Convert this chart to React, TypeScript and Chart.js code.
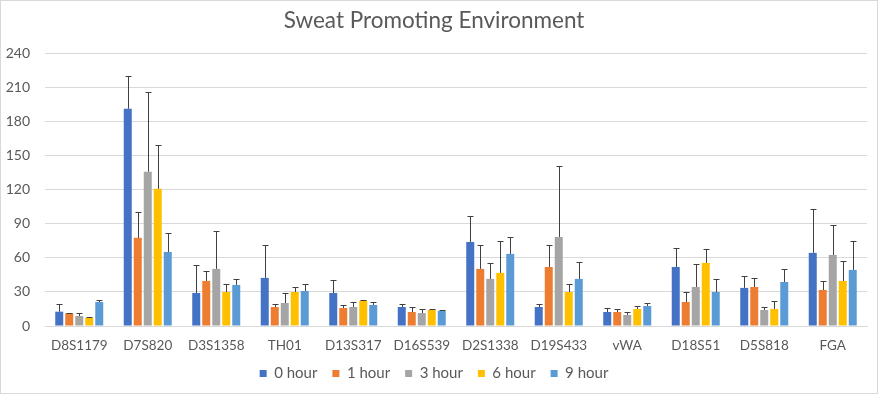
import React, { useEffect, useRef } from "react";
import { Chart, registerables } from "chart.js";

Chart.register(...registerables);

const categories = ["D8S1179", "D7S820", "D3S1358", "TH01", "D13S317", "D16S539", "D2S1338", "D19S433", "vWA", "D18S51", "D5S818", "FGA"];
const seriesNames = ["0 hour", "1 hour", "3 hour", "6 hour", "9 hour"];

const hour0 = [12.6, 191, 29, 42.3, 29, 16.7, 73.9, 16.7, 12.3, 51.9, 33.5, 64.3];
const hour1 = [11.2, 77.5, 39.6, 16.7, 15.8, 12.3, 50.2, 51.9, 12.3, 21.1, 34.3, 31.7];
const hour3 = [8.8, 135.6, 50.2, 20.2, 16.7, 11.4, 41.4, 78.3, 9.7, 34.3, 14.1, 62.5];
const hour6 = [7.3, 120.6, 29.9, 29.9, 22.3, 14.1, 46.7, 29.9, 15, 55.5, 15, 39.6];
const hour9 = [21.1, 65.1, 36.1, 30.8, 18.5, 13.2, 63.4, 41.4, 17.6, 29.9, 38.7, 49.3];

const err0 = [6.5, 29, 24.4, 28.7, 11.5, 2.4, 22.9, 2.4, 3.5, 16.5, 10.2, 38.4];
const err1 = [0.5, 22.5, 8.8, 2.4, 2.4, 4.1, 20.8, 19.1, 2.4, 8.5, 7.7, 7.6];
const err3 = [2.4, 70, 33, 8.6, 4.1, 3.3, 13.8, 62.3, 2.3, 20, 2.3, 26.1];
const err6 = [0.7, 38.4, 6.8, 4.7, 0.3, 0.6, 27.8, 7.4, 2.3, 12, 6.7, 17.3];
const err9 = [1.5, 16.5, 5, 6.5, 2.3, 0.6, 14.6, 14.6, 2.3, 11.2, 11.2, 25.2];

const yTicks = [0, 30, 60, 90, 120, 150, 180, 210, 240];

const colors = ["#4472C4", "#ED7D31", "#A5A5A5", "#FFC000", "#5B9BD5"];
const values = [hour0, hour1, hour3, hour6, hour9];
const errors = [err0, err1, err3, err6, err9];

const FONT = "Lato, 'Open Sans', sans-serif";
const TEXT = "#595959";
const GRID = "#D9D9D9";

const errorBarPlugin = {
  id: "errorBars",
  afterDatasetsDraw(chart: any) {
    const ctx = chart.ctx;
    const yScale = chart.scales.y;
    ctx.save();
    ctx.strokeStyle = "#404040";
    ctx.lineWidth = 1;
    chart.data.datasets.forEach((ds: any, i: number) => {
      const meta = chart.getDatasetMeta(i);
      if (meta.hidden) return;
      meta.data.forEach((el: any, j: number) => {
        const v = ds.data[j];
        const e = ds.errors[j];
        const top = Math.round(yScale.getPixelForValue(v + e)) + 0.5;
        const x = Math.round(el.x) + 0.5;
        const base = el.y;
        ctx.beginPath();
        ctx.moveTo(x, base);
        ctx.lineTo(x, top);
        ctx.moveTo(x - 3, top);
        ctx.lineTo(x + 3, top);
        ctx.stroke();
      });
    });
    ctx.restore();
  },
};

const legendHeightPlugin = {
  id: "legendHeight",
  beforeLayout(chart: any) {
    const lg = chart.legend;
    if (lg && !lg.__patched) {
      const orig = lg.fit;
      lg.fit = function () {
        orig.call(this);
        this.height = 42;
      };
      lg.__patched = true;
    }
  },
};

export default function App() {
  const ref = useRef<HTMLCanvasElement | null>(null);
  useEffect(() => {
    document.body.style.margin = "0";
    if (!ref.current) return;
    const chart = new Chart(ref.current, {
      type: "bar",
      data: {
        labels: categories,
        datasets: seriesNames.map((name, i) => ({
          label: name,
          data: values[i],
          errors: errors[i],
          backgroundColor: colors[i],
          borderWidth: 0,
          barPercentage: 0.8,
          categoryPercentage: 0.73,
        })) as any,
      },
      options: {
        responsive: false,
        animation: false,
        devicePixelRatio: 1,
        layout: { padding: { left: 0, right: 10, top: 0, bottom: 0 } },
        plugins: {
          title: {
            display: true,
            text: "Sweat Promoting Environment",
            color: TEXT,
            font: { family: FONT, size: 22.5, weight: "normal" },
            padding: { top: 6, bottom: 19 },
          },
          legend: {
            position: "bottom",
            labels: {
              color: TEXT,
              font: { family: FONT, size: 15 },
              boxWidth: 7,
              boxHeight: 7,
              padding: 15,
            },
          },
          tooltip: { enabled: false },
        },
        scales: {
          x: {
            grid: { display: false, drawTicks: false },
            border: { display: true, color: GRID },
            ticks: { color: TEXT, font: { family: FONT, size: 13.5 }, padding: 12, maxRotation: 0, autoSkip: false },
            afterFit(scale: any) {
              scale.height = 25;
              scale._computeLabelArea = () => undefined;
            },
          },
          y: {
            min: 0,
            max: 240,
            grid: { color: GRID, drawTicks: false },
            border: { display: false },
            ticks: {
              color: TEXT,
              font: { family: FONT, size: 14 },
              padding: 15,
              stepSize: 30,
              callback: (v: any) => (yTicks.includes(Number(v)) ? String(v) : ""),
            },
            afterFit(scale: any) {
              scale.width = 44;
            },
          },
        },
      },
      plugins: [errorBarPlugin, legendHeightPlugin],
    });
    return () => chart.destroy();
  }, []);
  return (
    <div style={{ width: 878, height: 394, boxSizing: "border-box", border: "1px solid #D9D9D9", background: "#fff" }}>
      <canvas ref={ref} width={876} height={392} style={{ display: "block" }} />
    </div>
  );
}
